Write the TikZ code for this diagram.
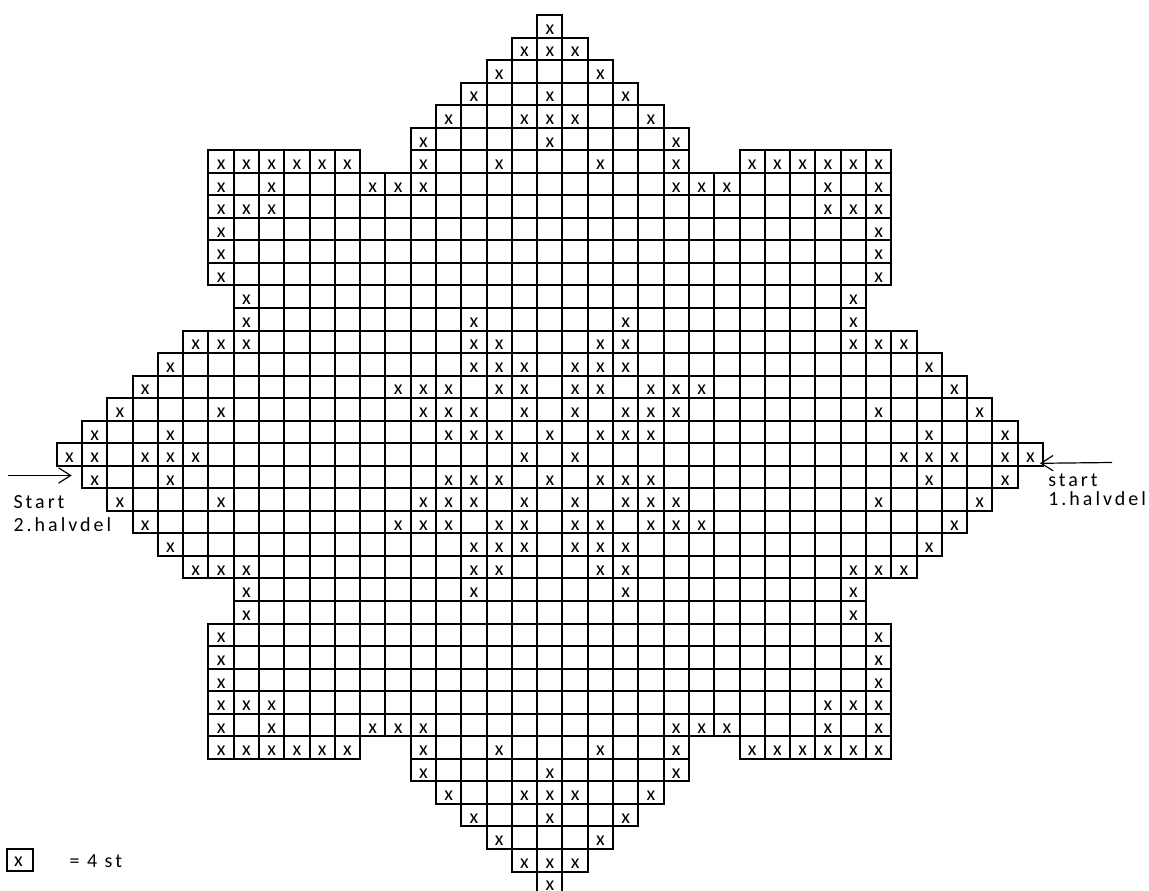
\documentclass[tikz,border=0pt]{standalone}
\usepackage{fontspec}
\setmainfont{Carlito}
\usetikzlibrary{arrows.meta}
\newcommand{\cw}{25.29}
\newcommand{\ch}{22.54}
\newcommand{\gx}{56.7}
\newcommand{\gy}{15}
\tikzset{
  gridline/.style={draw=black, line width=1.5pt},
  stitch/.style={anchor=base, inner sep=0pt, font=\fontsize{15}{18}\selectfont},
  lbl/.style={anchor=base west, inner sep=0pt, font=\fontsize{15}{18}\selectfont\addfontfeatures{LetterSpace=15}},
  arr/.style={line width=0.9pt, -{Straight Barb[length=9pt,width=11.5pt]}},
  keybox/.style={draw=black, line width=1.5pt, minimum width=19.5pt, minimum height=16.5pt, inner sep=0pt},
}
% vertical cell borders of one row (snapped to whole pixels)
\newcommand{\vrow}[2]{%
  \pgfmathsetmacro{\yt}{round(\gy+#1*\ch)}%
  \pgfmathsetmacro{\yb}{round(\gy+(#1+1)*\ch)}%
  \foreach \a/\b in {#2} {
    \pgfmathtruncatemacro{\bb}{\b+1}
    \foreach \c in {\a,...,\bb} {
      \pgfmathsetmacro{\xx}{round(\gx+\c*\cw)}
      \draw[gridline] (\xx,\yt) -- (\xx,\yb);
    }
  }
}
% stitch marks of one row
\newcommand{\xrow}[2]{%
  \foreach \c in {#2} {
    \node[stitch] (x-#1-\c) at ({\gx+(\c+0.5)*\cw},{\gy+(#1+1)*\ch-3.2}) {x};
  }
}
% horizontal border k (between rows k-1 and k)
\newcommand{\hrow}[2]{%
  \pgfmathsetmacro{\yy}{round(\gy+#1*\ch)}%
  \foreach \a/\b in {#2} {
    \pgfmathsetmacro{\xa}{round(\gx+\a*\cw)}
    \pgfmathsetmacro{\xb}{round(\gx+\b*\cw)}
    \draw[gridline, line cap=rect] (\xa,\yy) -- (\xb,\yy);
  }
}
\newcommand{\rowpair}[3]{%
  \vrow{#1}{#2}\xrow{#1}{#3}%
  \pgfmathtruncatemacro{\rr}{38-#1}%
  \vrow{\rr}{#2}\xrow{\rr}{#3}%
}
\newcommand{\hpair}[2]{%
  \hrow{#1}{#2}%
  \pgfmathtruncatemacro{\kk}{39-#1}%
  \hrow{\kk}{#2}%
}
\begin{document}
\begin{tikzpicture}[x=0.75pt,y=-0.75pt]
\useasboundingbox (0,0) rectangle (1149,891);
\clip (0,0) rectangle (1149,891);
% rows: index, cell ranges, stitched cells
\rowpair{0}{19/19}{19}
\rowpair{1}{18/20}{18,19,20}
\rowpair{2}{17/21}{17,21}
\rowpair{3}{16/22}{16,19,22}
\rowpair{4}{15/23}{15,18,19,20,23}
\rowpair{5}{14/24}{14,19,24}
\rowpair{6}{6/11,14/24,27/32}{6,7,8,9,10,11,14,17,21,24,27,28,29,30,31,32}
\rowpair{7}{6/32}{6,8,12,13,14,24,25,26,30,32}
\rowpair{8}{6/32}{6,7,8,30,31,32}
\rowpair{9}{6/32}{6,32}
\rowpair{10}{6/32}{6,32}
\rowpair{11}{6/32}{6,32}
\rowpair{12}{7/31}{7,31}
\rowpair{13}{7/31}{7,16,22,31}
\rowpair{14}{5/33}{5,6,7,16,17,21,22,31,32,33}
\rowpair{15}{4/34}{4,16,17,18,20,21,22,34}
\rowpair{16}{3/35}{3,13,14,15,17,18,20,21,23,24,25,35}
\rowpair{17}{2/36}{2,6,14,15,16,18,20,22,23,24,32,36}
\rowpair{18}{1/37}{1,4,15,16,17,19,21,22,23,34,37}
\vrow{19}{0/38}\xrow{19}{0,1,3,4,5,18,20,33,34,35,37,38}
% horizontal borders
\hpair{0}{19/20}
\hpair{1}{18/21}
\hpair{2}{17/22}
\hpair{3}{16/23}
\hpair{4}{15/24}
\hpair{5}{14/25}
\hpair{6}{6/12,14/25,27/33}
\hpair{7}{6/33}
\hpair{8}{6/33}
\hpair{9}{6/33}
\hpair{10}{6/33}
\hpair{11}{6/33}
\hpair{12}{6/33}
\hpair{13}{7/32}
\hpair{14}{5/34}
\hpair{15}{4/35}
\hpair{16}{3/36}
\hpair{17}{2/37}
\hpair{18}{1/38}
\hpair{19}{0/39}
% start labels and arrows
\coordinate (la0) at (8.3,475.5);
\coordinate (la1) at (71.7,475.5);
\draw[arr] (la0) -- (la1);
\node[lbl] (start2) at (13.3,508.3) {Start};
\node[lbl] (halv2) at (13.3,531.5) {2.halvdel};
\coordinate (ra0) at (1112,462.5);
\coordinate (ra1) at (1040,463.3);
\draw[arr] (ra0) -- (ra1);
\node[lbl] (start1) at (1048,486) {start};
\node[lbl] (halv1) at (1048,505) {1.halvdel};
% legend
\node[keybox] (key) at (20,860) {};
\node[stitch] (keyx) at (18.5,866.7) {x};
\node[lbl] (keytxt) at (69.3,867.7) {= 4 st};
\end{tikzpicture}
\end{document}
